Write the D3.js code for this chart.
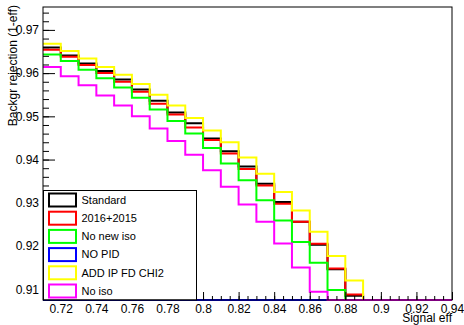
<!DOCTYPE html>
<html>
<head>
<meta charset="utf-8">
<script src="https://cdn.jsdelivr.net/npm/d3@7"></script>
<style>
  body { margin: 0; background: #fff; }
  text { font-family: "Liberation Sans", Arial, Helvetica, sans-serif; fill: #000; }
</style>
</head>
<body>
<div id="viz"></div>
<script>
// bins of width 0.01 starting at 0.71 (left edge); values of 0 fall below the frame
var binStart = 0.71, binWidth = 0.01;

var standard = [0.9659, 0.9641, 0.9622, 0.9605, 0.9585, 0.9562, 0.9536, 0.9509, 0.9484, 0.9449, 0.9419, 0.9384,
                0.9344, 0.9302, 0.9256, 0.9203, 0.9146, 0.9085, 0, 0, 0, 0, 0];
var y20162015 = [0.9654, 0.9638, 0.9619, 0.9600, 0.9580, 0.9557, 0.9529, 0.9504, 0.9474, 0.9445, 0.9414, 0.9378,
                 0.9340, 0.9298, 0.9256, 0.9205, 0.9148, 0.9088, 0, 0, 0, 0, 0];
var noNewIso = [0.9643, 0.9628, 0.9608, 0.9588, 0.9567, 0.9543, 0.9516, 0.9489, 0.9460, 0.9427, 0.9391, 0.9352,
                0.9306, 0.9259, 0.9209, 0.9161, 0.9098, 0, 0, 0, 0, 0, 0];
var noPid = [0, 0, 0, 0, 0, 0, 0, 0, 0, 0, 0, 0, 0, 0, 0, 0, 0, 0, 0, 0, 0, 0, 0];
var addIpFdChi2 = [0.9668, 0.9651, 0.9634, 0.9614, 0.9596, 0.9575, 0.9550, 0.9525, 0.9496, 0.9467, 0.9440, 0.9405,
                   0.9367, 0.9325, 0.9282, 0.9233, 0.9177, 0.9120, 0, 0, 0, 0, 0];
var noIso = [0.9614, 0.9593, 0.9572, 0.9548, 0.9525, 0.9500, 0.9472, 0.9443, 0.9411, 0.9375, 0.9337, 0.9296,
             0.9256, 0.9206, 0.9150, 0.9094, 0, 0, 0, 0, 0, 0, 0];

var seriesNames = ["Standard", "2016+2015", "No new iso", "NO PID", "ADD IP FD CHI2", "No iso"];
var seriesColors = ["#000000", "#ff0000", "#00ff00", "#0000ff", "#ffff00", "#ff00ff"];
var seriesValues = [standard, y20162015, noNewIso, noPid, addIpFdChi2, noIso];

var xTicks = [0.72, 0.74, 0.76, 0.78, 0.8, 0.82, 0.84, 0.86, 0.88, 0.9, 0.92, 0.94];
var yTicks = [0.91, 0.92, 0.93, 0.94, 0.95, 0.96, 0.97];

var width = 464, height = 325;
var frame = {left: 43, right: 452, top: 7, bottom: 300};

var svg = d3.select("#viz").append("svg")
    .attr("width", width)
    .attr("height", height);

svg.append("rect").attr("width", width).attr("height", height).attr("fill", "#fff");

var x = d3.scaleLinear().domain([0.71, 0.94]).range([frame.left, frame.right]);
var y = d3.scaleLinear().domain([0.9075, 0.9753]).range([frame.bottom, frame.top]).clamp(true);

// histograms drawn as steps
var line = d3.line()
    .x(function (d) { return x(d[0]); })
    .y(function (d) { return y(d[1]); })
    .curve(d3.curveStepAfter);

var hists = svg.append("g");
seriesValues.forEach(function (vals, s) {
    var pts = vals.map(function (v, i) { return [binStart + i * binWidth, v]; });
    pts.push([binStart + vals.length * binWidth, vals[vals.length - 1]]);
    hists.append("path")
        .attr("d", line(pts))
        .attr("fill", "none")
        .attr("stroke", seriesColors[s])
        .attr("stroke-width", 2);
});

// axes
function roundTo(v) { return Math.round(v * 10000) / 10000; }
var xMinor = d3.range(0, 47).map(function (i) { return roundTo(0.71 + i * 0.005); });
var yMinor = d3.range(0, 34).map(function (i) { return roundTo(0.908 + i * 0.002); });

svg.append("g")
    .attr("transform", "translate(0," + frame.bottom + ")")
    .call(d3.axisBottom(x).tickValues(xMinor).tickSizeInner(-4).tickSizeOuter(0).tickFormat(""));
svg.append("g")
    .attr("transform", "translate(0," + frame.bottom + ")")
    .call(d3.axisBottom(x).tickValues(xTicks).tickSizeInner(-8).tickSizeOuter(0).tickPadding(4)
        .tickFormat(d3.format("~g")));

svg.append("g")
    .attr("transform", "translate(" + frame.left + ",0)")
    .call(d3.axisLeft(y).tickValues(yMinor).tickSizeInner(-6).tickSizeOuter(0).tickFormat(""));
svg.append("g")
    .attr("transform", "translate(" + frame.left + ",0)")
    .call(d3.axisLeft(y).tickValues(yTicks).tickSizeInner(-12).tickSizeOuter(0).tickPadding(4)
        .tickFormat(d3.format("~g")));

svg.selectAll(".domain").remove();
svg.selectAll(".tick line").attr("stroke", "#000");
svg.selectAll(".tick text")
    .attr("fill", "#000")
    .style("font-family", '"Liberation Sans", Arial, Helvetica, sans-serif')
    .style("font-size", "12px");

// legend sits on top of the histograms and ticks
var legend = svg.append("g");
legend.append("rect")
    .attr("x", 43.5).attr("y", 190.5)
    .attr("width", 153).attr("height", 109.5)
    .attr("fill", "#fff").attr("stroke", "#000").attr("stroke-width", 1);

seriesNames.forEach(function (name, i) {
    var cy = 200 + i * 18.2;
    legend.append("rect")
        .attr("x", 49).attr("y", cy - 6.5)
        .attr("width", 27).attr("height", 13)
        .attr("fill", "none")
        .attr("stroke", seriesColors[i])
        .attr("stroke-width", 2);
    legend.append("text")
        .attr("x", 81.5).attr("y", cy)
        .attr("dy", "0.35em")
        .style("font-size", "11px")
        .text(name);
});

// frame
svg.append("rect")
    .attr("x", frame.left).attr("y", frame.top)
    .attr("width", frame.right - frame.left).attr("height", frame.bottom - frame.top)
    .attr("fill", "none").attr("stroke", "#000").attr("stroke-width", 1);

// axis titles
svg.append("text")
    .attr("x", frame.right).attr("y", 322)
    .attr("text-anchor", "end")
    .style("font-size", "12px")
    .text("Signal eff");

svg.append("text")
    .attr("transform", "translate(17,5) rotate(-90)")
    .attr("text-anchor", "end")
    .style("font-size", "12px")
    .text("Backgr rejection (1-eff)");
</script>
</body>
</html>
